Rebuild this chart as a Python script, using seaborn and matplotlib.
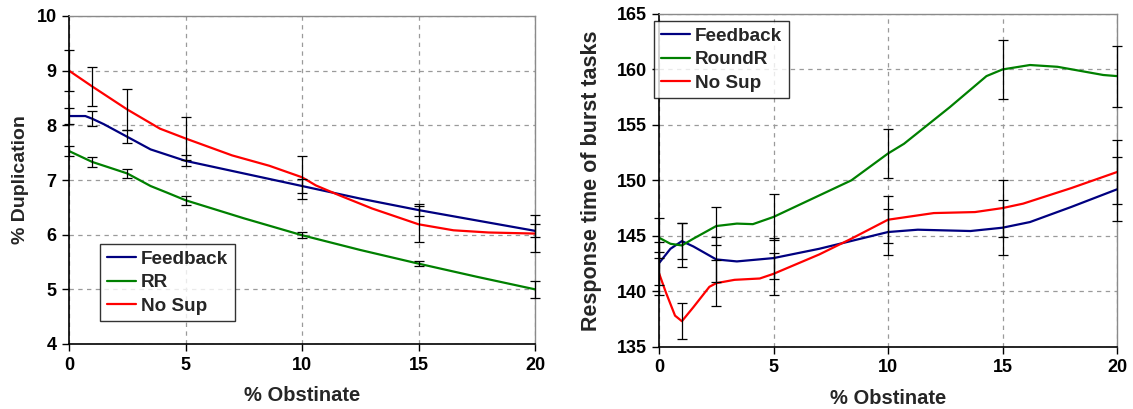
import matplotlib
matplotlib.use("Agg")
import matplotlib.pyplot as plt
import pandas as pd
import seaborn as sns

# ---------------------------------------------------------------- data
# x positions where each configuration was measured (with error bars)
obstinate_pct = [0, 1, 2.5, 5, 10, 15, 20]

# Left panel: % duplication, measured means and error half-widths
dup_feedback = [8.17, 8.12, 7.79, 7.35, 6.89, 6.45, 6.07]
dup_feedback_err = [0.15, 0.14, 0.12, 0.10, 0.12, 0.11, 0.12]
dup_rr = [7.53, 7.33, 7.12, 6.63, 5.99, 5.47, 5.00]
dup_rr_err = [0.09, 0.09, 0.08, 0.08, 0.06, 0.05, 0.15]
dup_nosup = [9.00, 8.71, 8.29, 7.76, 7.05, 6.19, 6.02]
dup_nosup_err = [0.38, 0.35, 0.38, 0.40, 0.39, 0.33, 0.34]

# Left panel: smoothed trend curves
dup_feedback_curve_x = [0, 0.7, 1, 1.5, 2.5, 3.5, 5, 7.5, 10, 12.5, 15, 17.5, 20]
dup_feedback_curve_y = [8.17, 8.17, 8.12, 8.02, 7.79, 7.56, 7.35, 7.12, 6.89, 6.66, 6.45, 6.26, 6.07]
dup_rr_curve_x = [0, 1, 2.5, 3.5, 4.2, 5, 7.5, 10, 12.5, 15, 17.5, 20]
dup_rr_curve_y = [7.53, 7.33, 7.12, 6.89, 6.77, 6.63, 6.30, 5.99, 5.72, 5.47, 5.23, 5.00]
dup_nosup_curve_x = [0, 1, 2.5, 3.9, 5, 7, 8.6, 10, 10.6, 11.6, 13, 15, 16.5, 18, 20]
dup_nosup_curve_y = [9.00, 8.71, 8.29, 7.94, 7.76, 7.45, 7.26, 7.05, 6.90, 6.72, 6.48, 6.19, 6.08, 6.04, 6.02]

# Right panel: response time of burst tasks, means and error half-widths
rt_feedback = [142.53, 144.52, 142.87, 142.99, 145.34, 145.73, 149.19]
rt_feedback_err = [1.95, 1.65, 2.0, 1.85, 2.1, 2.5, 2.9]
rt_roundr = [144.83, 144.13, 145.88, 146.70, 152.42, 160.00, 159.40]
rt_roundr_err = [1.8, 1.98, 1.72, 2.1, 2.2, 2.7, 2.75]
rt_nosup = [141.63, 137.30, 140.73, 141.57, 146.45, 147.50, 150.75]
rt_nosup_err = [1.95, 1.63, 2.1, 1.9, 2.1, 2.57, 2.9]

# Right panel: smoothed trend curves
rt_feedback_curve_x = [0, 0.5, 1, 1.5, 2.5, 3.4, 5, 7, 10, 11.3, 13.6, 15, 16.2, 18, 20]
rt_feedback_curve_y = [142.53, 143.83, 144.52, 144.04, 142.87, 142.69, 142.99, 143.83, 145.34,
                       145.55, 145.43, 145.73, 146.24, 147.60, 149.19]
rt_roundr_curve_x = [0, 0.5, 1, 1.5, 2.5, 3.4, 4.1, 5, 6.7, 8.4, 10, 10.7, 12.7, 14.3, 15,
                     16.2, 17.4, 19.4, 20]
rt_roundr_curve_y = [144.83, 144.28, 144.13, 144.74, 145.88, 146.10, 146.05, 146.70, 148.35,
                     150.00, 152.42, 153.30, 156.60, 159.40, 160.00, 160.40, 160.24, 159.50, 159.40]
rt_nosup_curve_x = [0, 0.3, 0.7, 1, 1.5, 2.2, 2.5, 3.3, 4.4, 5, 7, 8.4, 10, 12, 13.8, 15, 15.9, 18, 20]
rt_nosup_curve_y = [141.63, 139.90, 137.80, 137.30, 138.56, 140.40, 140.73, 141.03, 141.15, 141.57,
                    143.32, 144.74, 146.45, 147.05, 147.14, 147.50, 147.90, 149.30, 150.75]

x_ticks = [0, 5, 10, 15, 20]
dup_ticks = [4, 5, 6, 7, 8, 9, 10]
rt_ticks = [135, 140, 145, 150, 155, 160, 165]

NAVY, GREEN, RED = "#000080", "#008000", "#ff0000"

# ---------------------------------------------------------------- style
sns.set_theme(style="white")
plt.rcParams["font.family"] = ["Liberation Sans", "DejaVu Sans"]
plt.rcParams["font.weight"] = "bold"

W, H = 1133, 409
fig = plt.figure(figsize=(W / 100, H / 100), dpi=100)


def px_axes(x0, y0, x1, y1):
    return fig.add_axes([x0 / W, 1 - y1 / H, (x1 - x0) / W, (y1 - y0) / H])


ax_l = px_axes(69, 16, 535, 344)
ax_r = px_axes(659, 14, 1117, 346.7)


def draw_series(ax, cx, cy, mean, err, color, name):
    df = pd.DataFrame({"x": cx, "y": cy})
    sns.lineplot(data=df, x="x", y="y", ax=ax, color=color, lw=1.6,
                 label=name, sort=False, estimator=None, zorder=3)
    eb = ax.errorbar(obstinate_pct, mean, yerr=err, fmt="none", ecolor="black",
                     elinewidth=0.9, capsize=3.5, capthick=0.9, zorder=4)
    for child in eb.get_children():
        child.set_clip_on(False)


def style_axes(ax, yticks, ylabel, ylabel_size, ylabel_pad):
    ax.set_xlim(0, 20)
    ax.set_ylim(yticks[0], yticks[-1])
    ax.set_xticks(x_ticks)
    ax.set_yticks(yticks)
    ax.set_xticklabels([str(t) for t in x_ticks], fontsize=13, fontweight="bold")
    ax.set_yticklabels([str(t) for t in yticks], fontsize=13, fontweight="bold")
    ax.grid(True, color="#9a9a9a", lw=0.9)
    for gl in ax.get_xgridlines() + ax.get_ygridlines():
        gl.set_linestyle((0, (3.5, 3.5)))
        gl.set_dash_capstyle("butt")
    ax.set_axisbelow(True)
    for s in ("left", "bottom"):
        ax.spines[s].set_color("black")
        ax.spines[s].set_linewidth(1.2)
    for s in ("top", "right"):
        ax.spines[s].set_color("#8a8a8a")
        ax.spines[s].set_linewidth(1.0)
    ax.tick_params(axis="both", which="both", direction="out", length=5, width=1,
                   color="black", left=True, bottom=True, pad=4, labelcolor="black")
    ax.set_xlabel("% Obstinate", fontsize=14.5, fontweight="bold", labelpad=9)
    ax.set_ylabel(ylabel, fontsize=ylabel_size, fontweight="bold", labelpad=ylabel_pad)


# ---------------------------------------------------------------- left panel
draw_series(ax_l, dup_feedback_curve_x, dup_feedback_curve_y, dup_feedback, dup_feedback_err, NAVY, "Feedback")
draw_series(ax_l, dup_rr_curve_x, dup_rr_curve_y, dup_rr, dup_rr_err, GREEN, "RR")
draw_series(ax_l, dup_nosup_curve_x, dup_nosup_curve_y, dup_nosup, dup_nosup_err, RED, "No Sup")
style_axes(ax_l, dup_ticks, "% Duplication", 14, 5)

# ---------------------------------------------------------------- right panel
draw_series(ax_r, rt_feedback_curve_x, rt_feedback_curve_y, rt_feedback, rt_feedback_err, NAVY, "Feedback")
draw_series(ax_r, rt_roundr_curve_x, rt_roundr_curve_y, rt_roundr, rt_roundr_err, GREEN, "RoundR")
draw_series(ax_r, rt_nosup_curve_x, rt_nosup_curve_y, rt_nosup, rt_nosup_err, RED, "No Sup")
style_axes(ax_r, rt_ticks, "Response time of burst tasks", 15.5, 10)


def place_legend(ax, x0, y0):
    leg = ax.legend(loc="upper left", bbox_to_anchor=(x0 / W, 1 - y0 / H),
                    bbox_transform=fig.transFigure, borderaxespad=0,
                    prop={"size": 13.6, "weight": "bold"}, frameon=True,
                    fancybox=False, shadow=False, handlelength=1.55,
                    handletextpad=0.27, labelspacing=0.33, borderpad=0.35)
    leg.get_frame().set_edgecolor("black")
    leg.get_frame().set_linewidth(1.0)
    leg.get_frame().set_facecolor("white")
    leg.set_zorder(10)


place_legend(ax_l, 100, 244)
place_legend(ax_r, 654, 21)

fig.savefig("out.png", dpi=100)
